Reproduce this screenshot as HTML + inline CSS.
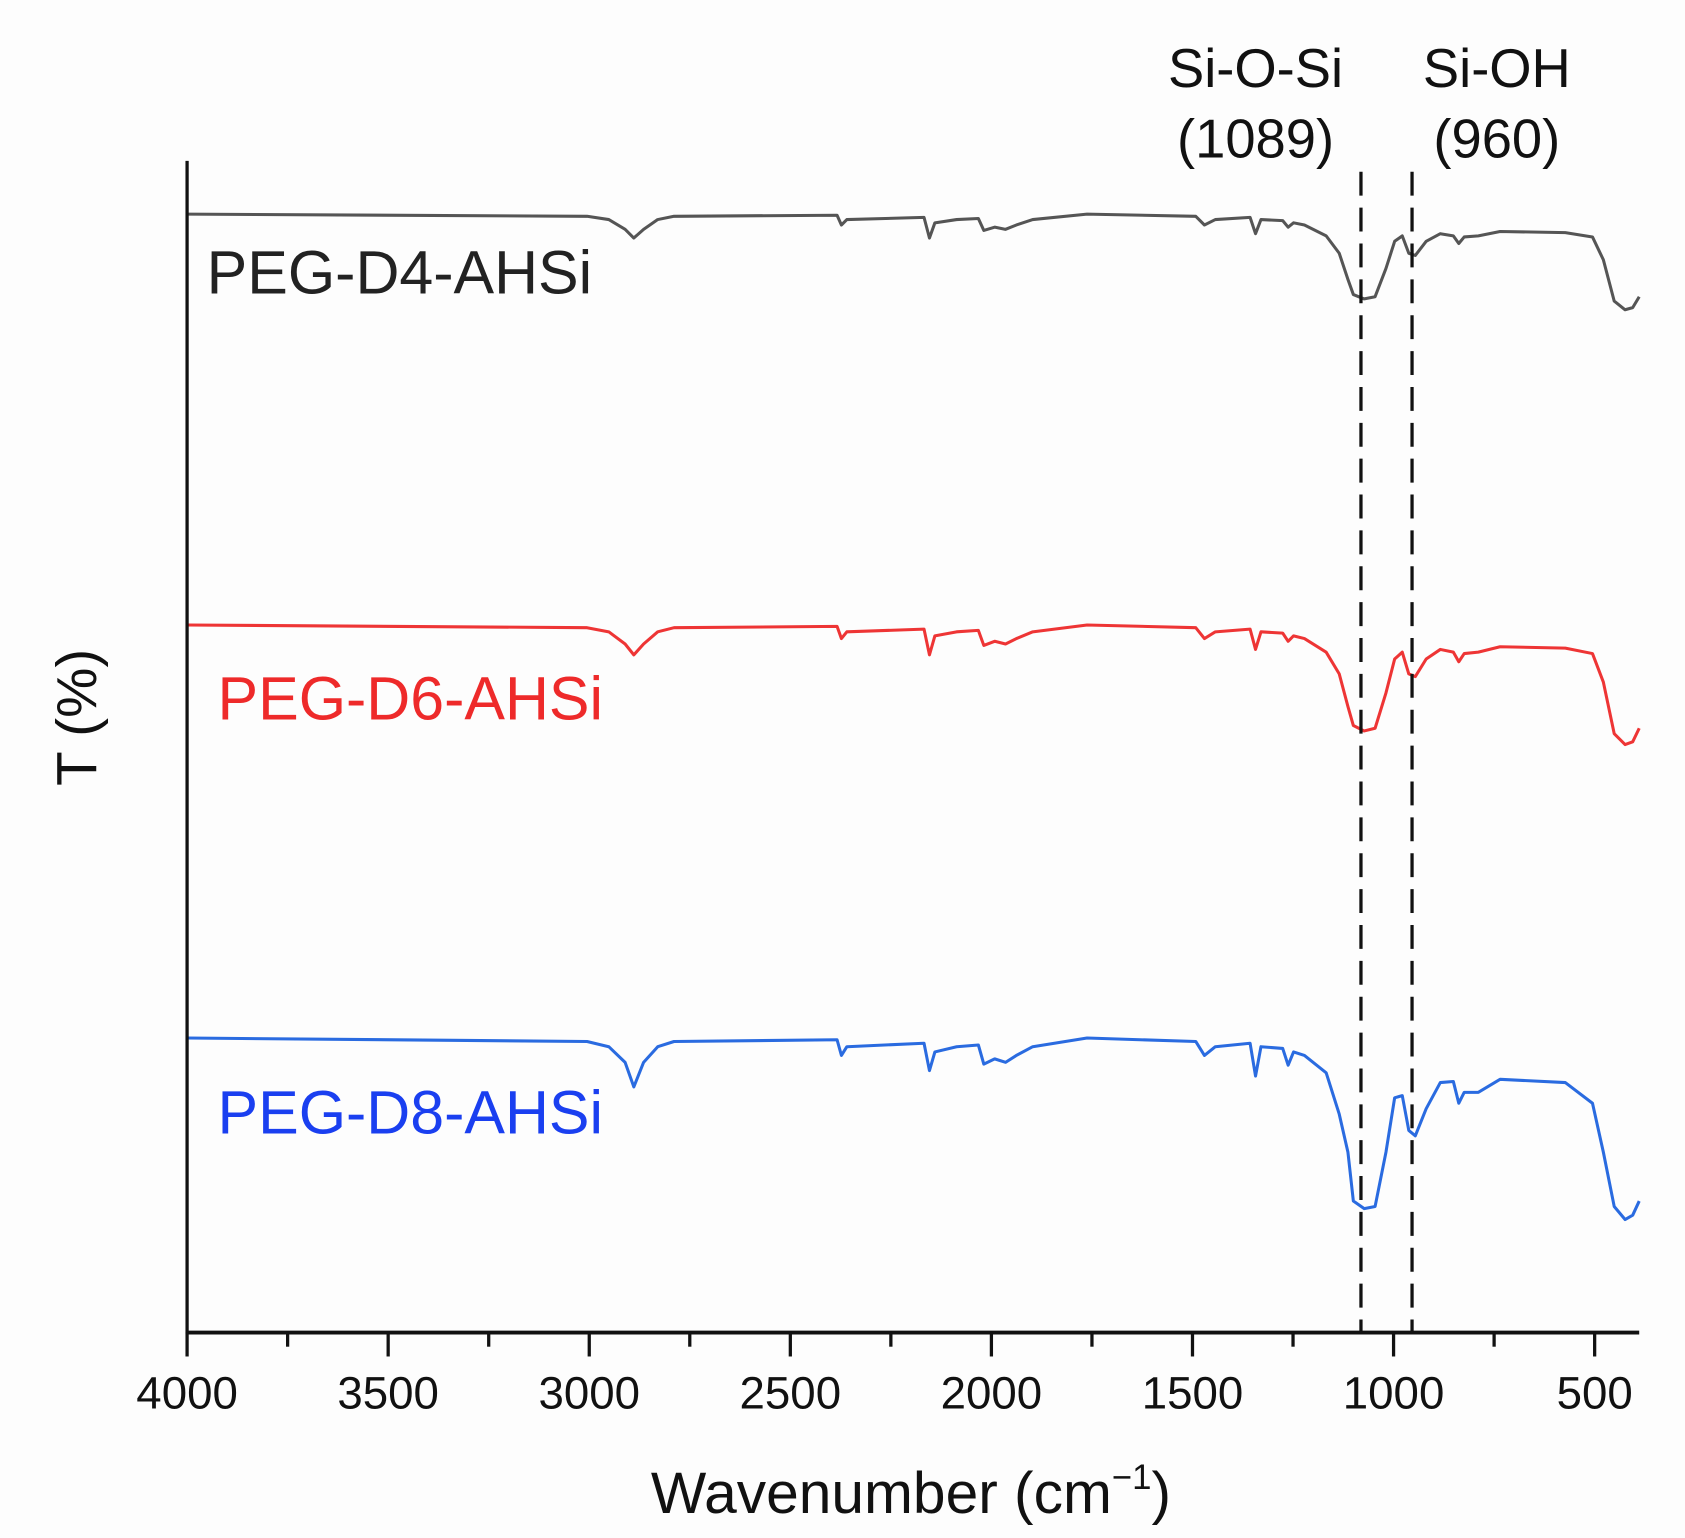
<!DOCTYPE html>
<html><head><meta charset="utf-8"><style>html,body{margin:0;padding:0;background:#fdfdfd}svg{display:block}</style></head>
<body>
<svg width="1685" height="1538" viewBox="0 0 1550 1415" xmlns="http://www.w3.org/2000/svg" font-family="Liberation Sans, sans-serif">
<rect width="1550" height="1415" fill="#fdfdfd"/>
<g fill="none" stroke-width="2.8" stroke-linejoin="round">
<path stroke="#555" d="M172,197 L540,199 L560,202 L575,211 L583,219 L592,211 L605,202 L620,199 L770,198 L774,207 L779,202 L850,200 L855,219 L860,205 L880,202 L900,201 L905,212 L915,209 L925,211 L935,207 L950,202 L1000,197 L1100,199 L1108,207 L1118,202 L1150,200 L1155,215 L1160,202 L1180,203 L1185,209 L1190,205 L1200,207 L1220,217 L1232,233 L1240,257 L1245,271 L1255,275 L1265,273 L1275,247 L1283,222 L1290,217 L1296,233 L1302,235 L1312,222 L1325,215 L1337,217 L1342,224 L1347,218 L1360,217 L1380,213 L1440,214 L1465,218 L1475,239 L1485,277 L1495,285 L1502,283 L1508,273"/>
<path stroke="#ee3535" d="M172,575 L540,577.5 L560,581.3 L575,592.5 L583,602.5 L592,592.5 L605,581.3 L620,577.5 L770,576.3 L774,587.5 L779,581.3 L850,578.8 L855,602.5 L860,585 L880,581.3 L900,580 L905,593.8 L915,590 L925,592.5 L935,587.5 L950,581.3 L1000,575 L1100,577.5 L1108,587.5 L1118,581.3 L1150,578.8 L1155,597.5 L1160,581.3 L1180,582.5 L1185,590 L1190,585 L1200,587.5 L1220,600 L1232,620 L1240,650 L1245,667.5 L1255,672.5 L1265,670 L1275,637.5 L1283,606.3 L1290,600 L1296,620 L1302,622.5 L1312,606.3 L1325,597.5 L1337,600 L1342,608.8 L1347,601.3 L1360,600 L1380,595 L1440,596.3 L1465,601.3 L1475,627.5 L1485,675 L1495,685 L1502,682.5 L1508,670"/>
<path stroke="#2a6be0" d="M172,955 L540,958.2 L560,963 L575,977.4 L583,1000 L592,977.4 L605,963 L620,958.2 L770,956.6 L774,971 L779,963 L850,959.8 L855,985 L860,967.8 L880,963 L900,961.4 L905,979 L915,974.2 L925,977.4 L935,971 L950,963 L1000,955 L1100,958.2 L1108,971 L1118,963 L1150,959.8 L1155,990 L1160,963 L1180,964.6 L1185,980 L1190,967.8 L1200,971 L1220,987 L1232,1025 L1240,1060 L1245,1105 L1255,1112 L1265,1110 L1275,1060 L1283,1010 L1290,1008 L1296,1040 L1302,1045 L1312,1020 L1325,996 L1337,995 L1342,1015 L1347,1005 L1360,1005 L1380,993 L1440,996 L1465,1015 L1475,1060 L1485,1110 L1495,1122 L1502,1118 L1508,1105"/>
</g>
<line x1="1252" y1="158" x2="1252" y2="1226" stroke="#111" stroke-width="3" stroke-dasharray="22,11"/>
<line x1="1299" y1="158" x2="1299" y2="1226" stroke="#111" stroke-width="3" stroke-dasharray="22,11"/>
<line x1="172" y1="148" x2="172" y2="1227" stroke="#111" stroke-width="3"/>
<line x1="171" y1="1226" x2="1508" y2="1226" stroke="#111" stroke-width="3.5"/>
<g stroke="#111" stroke-width="3">
<line x1="172" y1="1226" x2="172" y2="1248"/><line x1="264.5" y1="1226" x2="264.5" y2="1239"/>
<line x1="357" y1="1226" x2="357" y2="1248"/><line x1="449.5" y1="1226" x2="449.5" y2="1239"/>
<line x1="542" y1="1226" x2="542" y2="1248"/><line x1="634.5" y1="1226" x2="634.5" y2="1239"/>
<line x1="727" y1="1226" x2="727" y2="1248"/><line x1="819.5" y1="1226" x2="819.5" y2="1239"/>
<line x1="912" y1="1226" x2="912" y2="1248"/><line x1="1004.5" y1="1226" x2="1004.5" y2="1239"/>
<line x1="1097" y1="1226" x2="1097" y2="1248"/><line x1="1189.5" y1="1226" x2="1189.5" y2="1239"/>
<line x1="1282" y1="1226" x2="1282" y2="1248"/><line x1="1374.5" y1="1226" x2="1374.5" y2="1239"/>
<line x1="1467" y1="1226" x2="1467" y2="1248"/>
</g>
<g font-size="42" fill="#111" text-anchor="middle">
<text x="172" y="1296">4000</text><text x="357" y="1296">3500</text><text x="542" y="1296">3000</text><text x="727" y="1296">2500</text><text x="912" y="1296">2000</text><text x="1097" y="1296">1500</text><text x="1282" y="1296">1000</text><text x="1467" y="1296">500</text>
</g>
<text x="838" y="1392" font-size="54" text-anchor="middle" fill="#111">Wavenumber (cm<tspan dy="-22" font-size="32">−1</tspan><tspan dy="22">)</tspan></text>
<text transform="translate(88,660) rotate(-90)" font-size="52" text-anchor="middle" fill="#111">T (%)</text>
<g font-size="50" fill="#111" text-anchor="middle">
<text x="1155" y="80">Si-O-Si</text><text x="1155" y="145">(1089)</text>
<text x="1377" y="80">Si-OH</text><text x="1377" y="145">(960)</text>
</g>
<text x="190" y="270" font-size="56" fill="#222">PEG-D4-AHSi</text>
<text x="200" y="662" font-size="56" fill="#ee2a2a">PEG-D6-AHSi</text>
<text x="200" y="1043" font-size="56" fill="#1a3ff0">PEG-D8-AHSi</text>
</svg>
</body></html>
